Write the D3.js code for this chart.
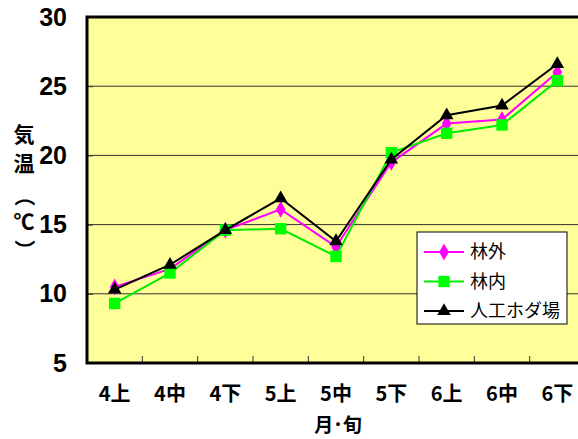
<!DOCTYPE html>
<html>
<head>
<meta charset="utf-8">
<script src="https://cdn.jsdelivr.net/npm/d3@7"></script>
<style>
  body { margin: 0; background: #fff; }
  svg { display: block; }
</style>
</head>
<body>
<svg id="graph"></svg>
<script>
const categories = ['4上', '4中', '4下', '5上', '5中', '5下', '6上', '6中', '6下']
const rinGai = [10.5, 11.8, 14.6, 16.1, 13.4, 19.5, 22.3, 22.6, 26.0]
const rinNai = [9.3, 11.5, 14.6, 14.7, 12.7, 20.2, 21.6, 22.2, 25.4]
const hodaba = [10.3, 12.1, 14.6, 16.9, 13.8, 19.7, 22.9, 23.6, 26.6]
const seriesNames = ['林外', '林内', '人工ホダ場']
const yTicks = [5, 10, 15, 20, 25, 30]

const width = 578
const height = 439
const margin = { top: 17, left: 87, bottom: 76, right: -7 }
const jp = "'Noto Sans CJK JP', 'Liberation Sans', sans-serif"

const svg = d3.select('#graph').attr('width', width).attr('height', height)

const xScale = d3
  .scaleBand()
  .domain(categories)
  .range([margin.left, width - margin.right])
const yScale = d3
  .scaleLinear()
  .domain([5, 30])
  .range([height - margin.bottom, margin.top])

// plot background
svg
  .append('rect')
  .attr('x', margin.left)
  .attr('y', margin.top)
  .attr('width', width - margin.right - margin.left)
  .attr('height', yScale(5) - yScale(30))
  .attr('fill', '#ffff99')

// grid lines
svg
  .append('g')
  .selectAll('line')
  .data(yTicks.filter((d) => d > 5 && d < 30))
  .enter()
  .append('line')
  .attr('x1', margin.left)
  .attr('x2', width)
  .attr('y1', (d) => yScale(d))
  .attr('y2', (d) => yScale(d))
  .attr('stroke', '#333')
  .attr('stroke-width', 1)

// y axis
const axisY = d3.axisLeft(yScale).tickValues(yTicks).tickSize(-6).tickPadding(20)
svg
  .append('g')
  .attr('transform', `translate(${margin.left},0)`)
  .call(axisY)
  .call((g) => g.select('.domain').remove())
  .call((g) => g.selectAll('line').attr('stroke', '#333'))
  .call((g) =>
    g
      .selectAll('text')
      .style('font-family', "'Liberation Sans Narrow', 'Liberation Sans', Arial, sans-serif")
      .style('font-weight', 'bold')
      .style('font-size', '25px')
      .attr('fill', '#000')
  )

// x axis
const axisX = d3.axisBottom(xScale).tickSize(0).tickPadding(24)
svg
  .append('g')
  .attr('transform', `translate(0,${yScale(5)})`)
  .call(axisX)
  .call((g) => g.select('.domain').remove())
  .call((g) =>
    g
      .selectAll('text')
      .style('font-family', jp)
      .style('font-weight', 'bold')
      .style('font-size', '20px')
      .attr('fill', '#000')
  )

// x ticks between categories
svg
  .append('g')
  .selectAll('line')
  .data(categories.slice(1))
  .enter()
  .append('line')
  .attr('x1', (d) => xScale(d))
  .attr('x2', (d) => xScale(d))
  .attr('y1', yScale(5))
  .attr('y2', yScale(5) - 7)
  .attr('stroke', '#333')
  .attr('stroke-width', 1)

// frame
svg
  .append('path')
  .attr('d', `M${width},${margin.top}H${margin.left}V${yScale(5)}H${width}`)
  .attr('fill', 'none')
  .attr('stroke', '#000')
  .attr('stroke-width', 3)

// series
const seriesData = [
  { name: seriesNames[0], values: rinGai, color: '#ff00ff', line: '#ff00ff', symbol: d3.symbolDiamond, size: 80 },
  { name: seriesNames[1], values: rinNai, color: '#00ff00', line: '#00ee00', symbol: d3.symbolSquare, size: 130 },
  { name: seriesNames[2], values: hodaba, color: '#000', line: '#000', symbol: d3.symbolTriangle, size: 80 },
]

const xCenter = (c) => xScale(c) + xScale.bandwidth() / 2

const line = d3
  .line()
  .x((d) => xCenter(d.cat))
  .y((d) => yScale(d.v))

seriesData.forEach((s) => {
  const pts = categories.map((c, i) => ({ cat: c, v: s.values[i] }))
  svg
    .append('path')
    .datum(pts)
    .attr('fill', 'none')
    .attr('stroke', s.line)
    .attr('stroke-width', 2)
    .attr('d', line)
  svg
    .append('g')
    .selectAll('path')
    .data(pts)
    .enter()
    .append('path')
    .attr('d', d3.symbol().type(s.symbol).size(s.size))
    .attr('transform', (d) => `translate(${xCenter(d.cat)},${yScale(d.v)})`)
    .attr('fill', s.color)
})

// legend
const legend = svg.append('g').attr('transform', 'translate(417,232)')
legend
  .append('rect')
  .attr('width', 150)
  .attr('height', 92)
  .attr('fill', '#fff')
  .attr('stroke', '#000')
  .attr('stroke-width', 1)
seriesData.forEach((s, i) => {
  const y = 20 + i * 29.5
  legend
    .append('line')
    .attr('x1', 7)
    .attr('x2', 47)
    .attr('y1', y)
    .attr('y2', y)
    .attr('stroke', s.line)
    .attr('stroke-width', 2)
  legend
    .append('path')
    .attr('d', d3.symbol().type(s.symbol).size(s.size))
    .attr('transform', `translate(27,${y})`)
    .attr('fill', s.color)
  legend
    .append('text')
    .attr('x', 53)
    .attr('y', y)
    .attr('dy', '0.35em')
    .style('font-family', jp)
    .style('font-size', '18px')
    .text(s.name)
})

// y axis title (vertical)
const yTitle = svg.append('g').style('font-family', jp).style('font-weight', 'bold').style('font-size', '21px')
const yChars = [
  { t: '気', y: 135, r: 0 },
  { t: '温', y: 164, r: 0 },
  { t: '（', y: 196, r: 90 },
  { t: '℃', y: 222, r: 0 },
  { t: '）', y: 250, r: 90 },
]
yChars.forEach((c) => {
  yTitle
    .append('text')
    .attr('text-anchor', 'middle')
    .attr('dy', '0.35em')
    .attr('transform', `translate(24,${c.y}) rotate(${c.r})`)
    .text(c.t)
})

// x axis title
svg
  .append('text')
  .attr('x', 338)
  .attr('y', 425)
  .attr('dy', '0.35em')
  .attr('text-anchor', 'middle')
  .style('font-family', jp)
  .style('font-weight', 'bold')
  .style('font-size', '19px')
  .text('月･旬')
</script>
</body>
</html>
